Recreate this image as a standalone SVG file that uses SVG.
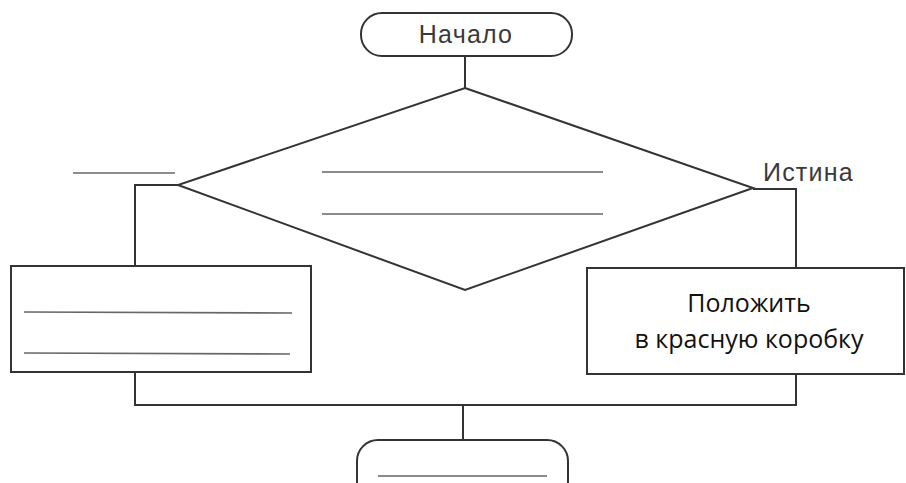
<svg xmlns="http://www.w3.org/2000/svg" width="906" height="483" viewBox="0 0 906 483">
<style>
.sh{fill:#fff;stroke:#333;stroke-width:2}
.ln{fill:none;stroke:#333;stroke-width:2}
.bl{stroke:#666;stroke-width:1.6}
.t1{font-family:"Liberation Sans",Arial,sans-serif;font-size:25px;letter-spacing:1.2px;fill:#3a3a3a}
.t2{font-family:"Open Sans","Noto Sans",sans-serif;font-size:25px;fill:#111;text-anchor:middle}
</style>
<rect width="906" height="483" fill="#fff"/>
<g id="connectors">
<line class="ln" x1="465" y1="56" x2="465" y2="88"/>
<polyline class="ln" points="178,185 135,185 135,266"/>
<polyline class="ln" points="753,189 796,189 796,268"/>
<polyline class="ln" points="135,372 135,405 796,405 796,374"/>
<line class="ln" x1="463" y1="405" x2="463" y2="440"/>
</g>
<g id="start">
<rect class="sh" x="361" y="13" width="211" height="43" rx="21"/>
<text class="t1" x="466" y="43" text-anchor="middle">Начало</text>
</g>
<g id="decision">
<polygon class="sh" points="465,88 753,188 465,290 178,185"/>
<line class="bl" x1="322" y1="172" x2="603" y2="172"/>
<line class="bl" x1="322" y1="214" x2="603" y2="214"/>
</g>
<g id="label-false">
<line class="bl" x1="73" y1="173" x2="175" y2="173"/>
</g>
<g id="label-true">
<text class="t1" x="763" y="181">Истина</text>
</g>
<g id="left-box">
<rect class="sh" x="11" y="266" width="300" height="106"/>
<line class="bl" x1="24" y1="312" x2="292" y2="313"/>
<line class="bl" x1="24" y1="353" x2="290" y2="354"/>
</g>
<g id="right-box">
<rect class="sh" x="587" y="268" width="317" height="106"/>
<text class="t2" x="749" y="312">Положить</text>
<text class="t2" x="749" y="348">в красную коробку</text>
</g>
<g id="end">
<rect class="sh" x="357" y="440" width="211" height="62" rx="21"/>
<line class="bl" x1="378" y1="476" x2="547" y2="476"/>
</g>
</svg>
